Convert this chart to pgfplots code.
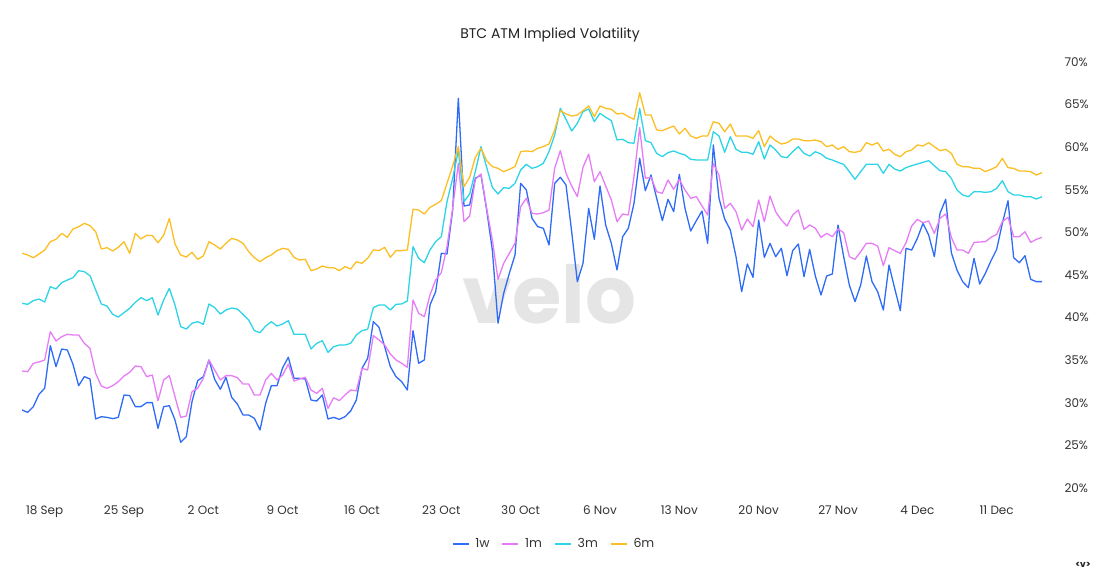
\documentclass[border=0pt]{standalone}
\usepackage{fontspec}
\setmainfont{Poppins}
\usepackage{pgfplots}
\usepackage{pgfplotstable}
\pgfplotsset{compat=1.18}
\definecolor{colw}{HTML}{2E6BF7}
\definecolor{colm}{HTML}{E77CF7}
\definecolor{colq}{HTML}{2DD4E6}
\definecolor{cols}{HTML}{FBBF24}
\definecolor{tickgray}{HTML}{333333}
\definecolor{titlegray}{HTML}{222222}
\pgfplotstableread{
i w1 m1 m3 m6
0 29.16 33.73 41.67 47.54
1 28.88 33.65 41.56 47.35
2 29.55 34.63 41.99 47.03
3 31.00 34.79 42.18 47.46
4 31.70 35.02 41.83 47.93
5 36.71 38.35 43.63 48.91
6 34.24 37.25 43.36 49.19
7 36.31 37.76 44.10 49.89
8 36.20 38.04 44.41 49.42
9 34.51 37.96 44.69 50.40
10 32.01 37.96 45.51 50.67
11 33.07 36.98 45.39 51.06
12 32.79 36.39 44.92 50.79
13 28.10 33.46 43.24 50.09
14 28.37 31.97 41.60 48.05
15 28.29 31.70 41.36 48.21
16 28.14 32.01 40.38 47.82
17 28.29 32.48 40.07 48.25
18 30.92 33.15 40.58 48.91
19 30.84 33.58 41.09 47.54
20 29.55 34.32 41.79 49.89
21 29.55 34.24 42.34 49.23
22 30.02 33.07 41.99 49.66
23 30.02 33.26 42.34 49.62
24 27.00 30.25 40.30 48.79
25 29.55 32.68 42.07 49.66
26 29.66 33.19 43.43 51.65
27 27.98 30.72 41.48 48.64
28 25.36 28.29 38.94 47.35
29 26.03 28.45 38.66 47.11
30 30.13 31.31 39.33 47.66
31 32.60 31.70 39.52 46.84
32 33.07 32.87 39.21 47.23
33 35.02 35.02 41.60 48.91
34 32.75 33.85 41.17 48.52
35 31.58 32.68 40.42 48.05
36 32.99 33.19 40.89 48.72
37 30.64 33.19 41.13 49.30
38 29.86 32.95 41.01 49.11
39 28.57 32.21 40.38 48.72
40 28.57 32.21 39.72 47.74
41 28.18 30.92 38.47 47.03
42 26.81 30.92 38.23 46.56
43 29.94 32.68 39.01 47.03
44 32.01 33.46 39.52 47.35
45 32.01 32.68 39.01 47.86
46 34.12 33.26 39.25 48.13
47 35.34 34.55 39.64 48.01
48 32.87 32.56 38.04 47.07
49 32.87 32.79 38.04 46.76
50 32.79 32.99 38.04 46.84
51 30.33 31.50 36.31 45.51
52 30.21 31.11 36.98 45.70
53 30.92 31.70 37.29 46.06
54 28.10 29.35 35.92 45.86
55 28.29 30.60 36.59 45.86
56 28.06 30.25 36.78 45.51
57 28.37 30.92 36.78 45.98
58 29.04 31.50 36.98 45.70
59 30.33 31.42 37.96 46.56
60 34.04 34.04 38.47 46.37
61 35.22 33.85 38.63 46.96
62 39.53 37.88 41.17 47.94
63 38.86 37.37 41.48 47.86
64 36.59 36.79 41.48 48.25
65 34.24 35.73 40.89 47.08
66 33.07 35.03 41.56 47.86
67 32.48 34.64 41.60 47.86
68 31.50 34.17 41.95 47.94
69 38.47 42.07 48.33 52.71
70 34.64 40.50 46.96 52.63
71 35.03 40.11 46.45 52.16
72 41.48 42.66 47.94 52.94
73 43.05 44.42 48.91 53.30
74 47.55 45.28 49.50 53.73
75 47.47 48.33 53.61 55.76
76 52.63 52.83 56.35 57.80
77 65.74 58.11 59.60 60.07
78 53.10 51.26 53.61 55.37
79 53.22 51.93 54.51 56.47
80 56.35 56.23 57.13 58.81
81 56.74 56.86 60.07 59.87
82 52.63 52.83 57.64 58.42
83 47.94 49.11 55.29 57.72
84 39.33 44.49 54.51 57.52
85 42.85 46.37 55.25 57.13
86 45.20 47.55 55.17 57.40
87 47.35 48.72 55.76 57.72
88 55.76 53.02 57.33 59.48
89 54.98 54.00 57.99 59.56
90 51.65 52.24 57.52 59.48
91 50.68 52.16 57.72 59.87
92 50.48 52.32 58.11 60.07
93 48.52 52.63 59.48 60.38
94 55.76 57.52 61.43 62.02
95 56.47 59.60 64.56 64.29
96 55.57 56.94 63.27 63.90
97 50.09 55.45 61.90 63.66
98 44.22 54.20 62.80 63.78
99 46.37 57.64 64.17 64.29
100 52.83 59.20 64.49 64.84
101 49.19 55.96 63.00 63.59
102 55.45 57.13 63.98 64.84
103 50.87 55.45 63.51 64.56
104 48.72 53.81 63.12 64.45
105 45.59 51.26 60.85 63.90
106 49.50 52.16 60.93 63.98
107 50.48 52.04 60.53 63.59
108 53.41 56.54 60.46 63.27
109 58.70 62.30 64.56 66.40
110 54.90 56.35 60.77 63.78
111 56.74 56.47 60.53 63.78
112 54.00 54.78 59.28 62.02
113 51.38 54.59 58.89 61.94
114 53.88 56.15 59.36 62.22
115 52.44 55.06 59.56 62.49
116 56.82 56.23 59.28 61.55
117 52.83 54.98 59.09 62.22
118 50.17 54.00 58.58 61.32
119 51.38 54.20 58.50 61.04
120 52.51 53.10 58.50 61.32
121 48.71 52.04 58.50 61.31
122 60.26 58.10 61.82 62.99
123 54.00 56.73 61.31 62.80
124 51.57 52.82 59.40 61.82
125 50.28 53.41 61.23 62.72
126 47.15 52.43 59.75 61.31
127 43.04 50.28 59.40 61.31
128 46.29 51.57 59.40 61.31
129 44.72 50.67 59.16 61.04
130 51.45 53.80 60.65 61.94
131 47.07 51.26 58.61 60.06
132 48.71 54.27 60.26 61.31
133 47.15 52.43 59.67 60.76
134 48.13 51.45 58.89 60.37
135 44.92 50.75 58.77 60.53
136 47.85 52.04 59.47 60.96
137 48.64 52.63 60.06 60.96
138 44.80 50.36 59.28 60.76
139 48.01 50.87 58.96 60.76
140 44.88 50.48 59.47 60.84
141 42.65 49.42 59.20 60.65
142 44.88 49.89 58.69 60.06
143 45.12 49.50 58.50 60.26
144 50.87 50.40 58.22 59.75
145 47.15 49.97 57.99 60.06
146 43.82 47.15 57.13 59.47
147 41.87 46.84 56.23 59.40
148 43.82 47.74 57.13 59.55
149 47.23 48.71 57.99 60.53
150 44.22 48.71 57.99 60.26
151 43.04 48.40 57.99 60.53
152 40.89 46.09 56.93 59.55
153 46.17 48.21 57.99 59.75
154 43.43 47.85 57.44 59.16
155 40.81 47.54 57.20 58.89
156 48.13 48.79 57.60 59.47
157 47.93 50.75 57.83 59.67
158 49.30 51.53 58.03 60.26
159 51.06 51.14 58.22 60.14
160 49.69 51.34 58.42 60.53
161 47.15 49.89 57.83 60.06
162 52.24 51.65 57.24 59.59
163 53.88 52.16 57.13 59.75
164 47.62 49.42 56.34 59.28
165 45.58 47.93 54.97 57.99
166 44.22 47.93 54.39 57.71
167 43.51 47.54 54.19 57.71
168 46.95 48.83 54.78 57.52
169 43.94 48.87 54.78 57.52
170 45.19 48.91 54.70 57.13
171 46.68 49.42 54.78 57.40
172 48.01 49.77 55.17 57.71
173 51.06 51.26 56.07 58.69
174 53.72 51.77 54.78 57.60
175 47.03 49.50 54.39 57.52
176 46.44 49.50 54.39 57.20
177 47.27 50.08 54.19 57.20
178 44.49 48.83 54.19 57.13
179 44.22 49.18 53.92 56.73
180 44.22 49.42 54.19 57.01
}\voldata
\begin{document}
\begin{tikzpicture}[x=1pt,y=1pt]
\begin{axis}[
  at={(0pt,0pt)}, anchor=south west,
  scale only axis, width=1020pt, height=426pt,
  xmin=0, xmax=180, ymin=20, ymax=70,
  axis line style={draw=none},
  major tick style={draw=none},
  xtick={4,18,32,46,60,74,88,102,116,130,144,158,172},
  xticklabels={18 Sep,25 Sep,2 Oct,9 Oct,16 Oct,23 Oct,30 Oct,6 Nov,13 Nov,20 Nov,27 Nov,4 Dec,11 Dec},
  ytick={20,25,30,35,40,45,50,55,60,65,70},
  yticklabel pos=right,
  yticklabel={\pgfmathprintnumber{\tick}\%},
  /pgf/number format/assume math mode=true,
  tick label style={font=\fontsize{12}{14}\selectfont, text=tickgray},
  x tick label style={yshift=-14pt},
  y tick label style={anchor=west, xshift=19pt},
  legend style={at={(0.5216,-0.1315)}, anchor=center, draw=none, fill=none,
    legend columns=4, font=\fontsize{12.5}{15}\selectfont, text=tickgray,
    /tikz/every odd column/.append style={column sep=4pt},
    /tikz/every even column/.append style={column sep=10pt}},
  legend image code/.code={\draw[#1, line width=1.6pt] (0pt,0pt) -- (16pt,0pt);},
  every axis plot/.append style={line width=1.3pt, line join=round},
]
\node[font=\fontsize{80}{80}\selectfont\bfseries, text=black!10] at (axis cs:93,42.8) {velo};
\addplot[colw, no marks] table[x=i, y=w1] {\voldata};
\addlegendentry{1w}
\addplot[colm, no marks] table[x=i, y=m1] {\voldata};
\addlegendentry{1m}
\addplot[colq, no marks] table[x=i, y=m3] {\voldata};
\addlegendentry{3m}
\addplot[cols, no marks] table[x=i, y=m6] {\voldata};
\addlegendentry{6m}
\end{axis}
\node[font=\fontsize{14}{17}\selectfont, text=titlegray] at (528pt,453pt) {BTC ATM Implied Volatility};
\node[font=\fontsize{9}{10}\selectfont\bfseries, text=titlegray] at (1061pt,-77pt) {<v>};
\pgfresetboundingbox
\path[use as bounding box] (-22pt,-87pt) rectangle (1078pt,488pt);
\end{tikzpicture}
\end{document}
